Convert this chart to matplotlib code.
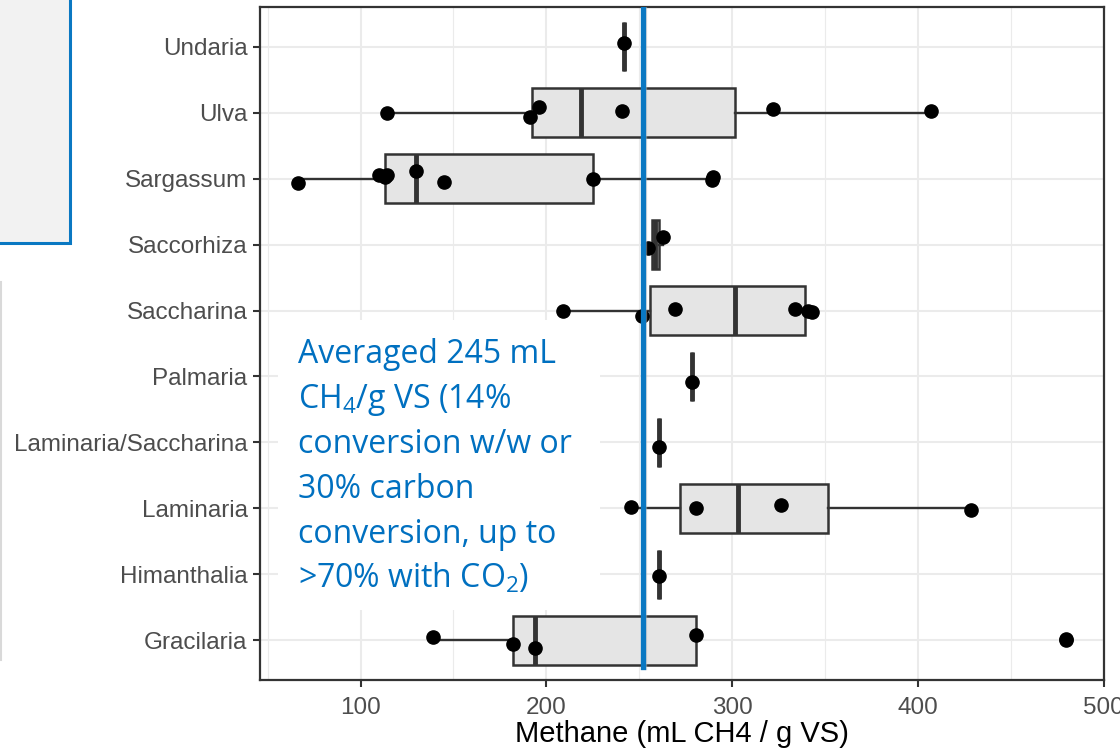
import matplotlib.pyplot as plt
import numpy as np
from matplotlib.patches import Rectangle
from matplotlib.lines import Line2D

plt.rcParams['font.family'] = ['Liberation Sans', 'DejaVu Sans']

# categories, bottom to top
species = ['Gracilaria', 'Himanthalia', 'Laminaria', 'Laminaria/Saccharina', 'Palmaria',
           'Saccharina', 'Saccorhiza', 'Sargassum', 'Ulva', 'Undaria']

# methane yields (mL CH4 / g VS)
gracilaria = [139, 182.1, 193.7, 280.5, 479.6]
himanthalia = [260.5]
laminaria = [245.7, 280.6, 326.3, 428.8]
lam_sacch = [260.6]
palmaria = [278.5]
saccharina = [208.8, 251.4, 269.5, 334, 341, 343]
saccorhiza = [254.8, 262.7]
sargassum = [66.5, 110, 113, 114, 130, 145, 225, 289, 290]
ulva = [114, 191, 196, 241, 322, 407]
undaria = [241.6]

# vertical jitter of the dots (category units)
jit_gracilaria = [0.05, -0.06, -0.11, 0.08, 0.015]
jit_himanthalia = [-0.03]
jit_laminaria = [0.02, 0.0, 0.05, -0.03]
jit_lam_sacch = [-0.07]
jit_palmaria = [-0.08]
jit_saccharina = [-0.01, -0.08, 0.03, 0.03, -0.01, -0.03]
jit_saccorhiza = [-0.05, 0.11]
jit_sargassum = [-0.06, 0.05, 0.02, 0.05, 0.12, -0.05, 0.0, -0.02, 0.03]
jit_ulva = [0.0, -0.06, 0.09, 0.02, 0.05, 0.03]
jit_undaria = [0.06]

methane = [gracilaria, himanthalia, laminaria, lam_sacch, palmaria,
           saccharina, saccorhiza, sargassum, ulva, undaria]
jitter = [jit_gracilaria, jit_himanthalia, jit_laminaria, jit_lam_sacch, jit_palmaria,
          jit_saccharina, jit_saccorhiza, jit_sargassum, jit_ulva, jit_undaria]

avg_line = 252
note_lines = ['Averaged 245 mL',
              r'CH$\mathregular{_4}$/g VS (14%',
              'conversion w/w or',
              '30% carbon',
              'conversion, up to',
              r'>70% with CO$\mathregular{_2}$)']

W, H = 1120, 750
fig = plt.figure(figsize=(W / 100, H / 100), dpi=100)
ax = fig.add_axes([260 / W, (H - 680) / H, (1104 - 260) / W, (680 - 7) / H])

dark = '#333333'
pos = np.arange(1, len(species) + 1)

ax.boxplot(methane, positions=pos, orientation='horizontal', widths=0.75,
           patch_artist=True, showcaps=False, whis=1.5,
           boxprops=dict(facecolor='#e5e5e5', edgecolor=dark, linewidth=1.8),
           medianprops=dict(color=dark, linewidth=3.5),
           whiskerprops=dict(color=dark, linewidth=1.7),
           flierprops=dict(marker='o', markerfacecolor='black', markeredgecolor='black',
                           markersize=9.5),
           zorder=2)

for i, (vals, jit) in enumerate(zip(methane, jitter)):
    ax.plot(vals, pos[i] + np.array(jit), 'o', color='black', markersize=9.5,
            linestyle='none', zorder=3)

allv = np.concatenate([np.array(v) for v in methane])
span = allv.max() - allv.min()
ax.set_xlim(allv.min() - 0.05 * span, allv.max() + 0.05 * span)
ax.set_ylim(0.4, len(species) + 0.6)

ax.set_yticks(pos)
ax.set_yticklabels(species)
ax.set_xticks([100, 200, 300, 400, 500])
ax.set_xticks([50, 150, 250, 350, 450], minor=True)
ax.tick_params(axis='both', which='major', length=5, width=1.5, color=dark,
               labelcolor='#4d4d4d', labelsize=17.5)
ax.tick_params(axis='y', which='major', pad=4)
ax.tick_params(axis='x', which='major', pad=7)
ax.tick_params(axis='x', which='minor', length=0)
ax.set_axisbelow(True)
ax.grid(which='major', color='#ebebeb', linewidth=1.5)
ax.grid(which='minor', axis='x', color='#ebebeb', linewidth=0.8)
for s in ax.spines.values():
    s.set_color(dark)
    s.set_linewidth(1.6)

ax.set_xlabel('Methane (mL CH4 / g VS)', fontsize=21, color='black', labelpad=1)

# white note box and the average line
ax.add_patch(Rectangle((278 / W, (H - 610) / H), (600 - 278) / W, (610 - 320) / H,
                       transform=fig.transFigure, facecolor='white', edgecolor='none',
                       zorder=1))
ax.axvline(avg_line + 0.8, ymin=(680 - 667) / 673, ymax=1, color='#bdbdbd', linewidth=3.8,
           alpha=0.5, zorder=3.9)
ax.axvline(avg_line, ymin=(680 - 667) / 673, ymax=1, color='#0a78c2', linewidth=3.8,
           zorder=4)

for k, line in enumerate(note_lines):
    fig.text(298 / W, (H - (363 + 45 * k)) / H, line, fontsize=23, color='#0070c0',
             family='Open Sans', va='baseline', ha='left')

# slide decorations at the left edge
fig.patches.append(Rectangle((-10 / W, (H - 243) / H), 80 / W, 260 / H,
                             transform=fig.transFigure, facecolor='#f2f2f2',
                             edgecolor='#0a78c2', linewidth=2.2))
fig.lines.append(Line2D([1 / W, 1 / W], [(H - 282) / H, (H - 660) / H],
                        transform=fig.transFigure, color='#d9d9d9', linewidth=1.5))

fig.savefig('out.png', dpi=100)
